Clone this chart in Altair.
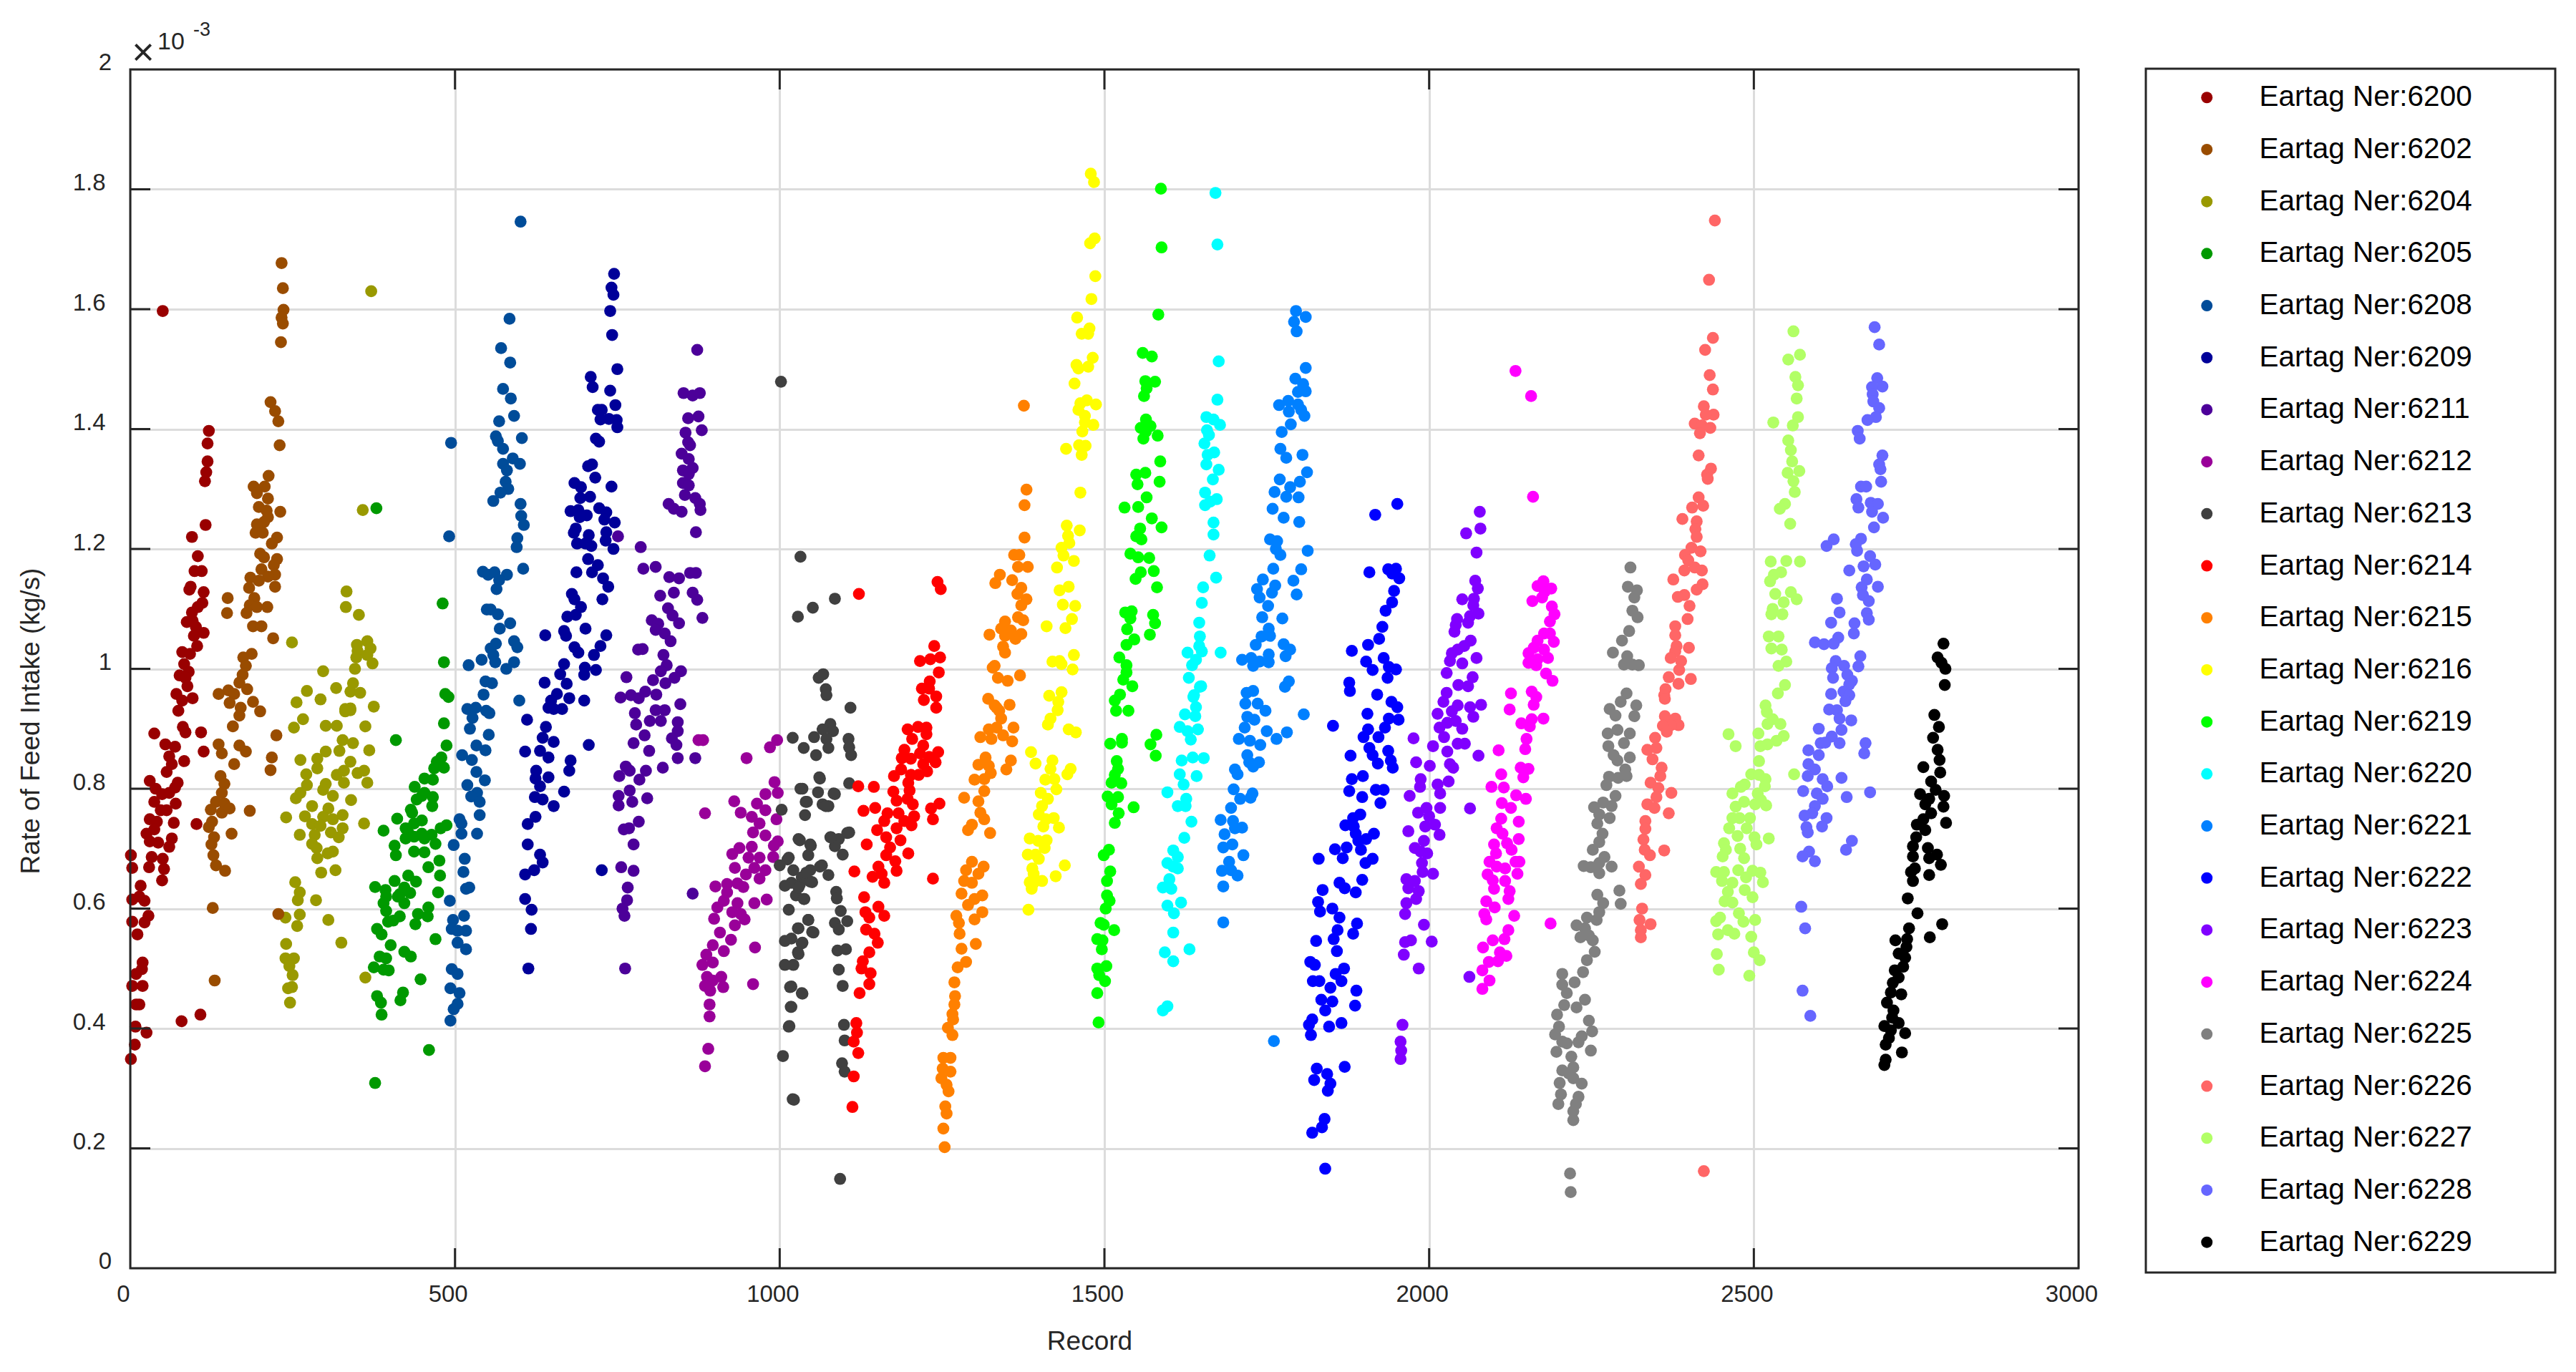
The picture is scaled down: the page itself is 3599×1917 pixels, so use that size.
import altair as alt
import pandas as pd

s6200 = [(50,1.597),(121,1.397),(119,1.376),(119,1.346),(117,1.328),(115,1.313),(116,1.24),(95,1.22),(104,1.188),(99,1.163),(110,1.163),(93,1.137),(91,1.132),(113,1.128),(111,1.11),(104,1.103),(95,1.094),(96,1.08),(87,1.078),(101,1.07),(113,1.06),(98,1.055),(103,1.038),(80,1.028),(92,1.025),(83,1.008),(90,.995),(76,.989),(85,.985),(88,.971),(71,.958),(96,.951),(80,.947),(74,.93),(81,.903),(85,.894),(37,.892),(109,.894),(113,.862),(54,.874),(69,.87),(60,.854),(64,.841),(83,.846),(56,.828),(30,.813),(73,.81),(69,.802),(39,.8),(49,.791),(60,.793),(37,.778),(70,.775),(47,.764),(56,.764),(30,.749),(102,.741),(41,.745),(67,.743),(37,.732),(25,.725),(64,.717),(30,.712),(43,.71),(60,.703),(33,.686),(50,.683),(29,.669),(52,.666),(1,.689),(3,.668),(49,.647),(16,.638),(14,.62),(3,.615),(22,.613),(3,.578),(28,.588),(22,.577),(11,.557),(19,.51),(18,.499),(9,.491),(3,.471),(19,.471),(9,.44),(14,.44),(8,.403),(25,.393),(7,.373),(1,.349),(79,.412),(108,.423)]
s6202 = [(233,1.677),(235,1.635),(236,1.599),(233,1.586),(235,1.576),(232,1.545),(216,1.445),(223,1.43),(228,1.413),(230,1.373),(213,1.322),(190,1.304),(207,1.304),(195,1.293),(212,1.284),(198,1.27),(210,1.264),(231,1.262),(212,1.253),(206,1.245),(195,1.241),(193,1.227),(204,1.227),(226,1.219),(218,1.209),(200,1.192),(206,1.186),(226,1.183),(221,1.173),(202,1.166),(223,1.157),(212,1.154),(185,1.152),(198,1.147),(183,1.135),(223,1.137),(191,1.118),(150,1.118),(184,1.106),(195,1.103),(211,1.103),(149,1.093),(179,1.093),(189,1.071),(202,1.071),(220,1.051),(187,1.025),(174,1.019),(178,1.005),(173,.99),(168,.977),(180,.966),(151,.964),(136,.958),(160,.958),(189,.945),(153,.943),(170,.935),(200,.929),(168,.922),(158,.904),(136,.874),(168,.872),(141,.859),(178,.862),(160,.841),(218,.852),(216,.831),(225,.889),(139,.821),(145,.808),(141,.793),(132,.778),(145,.775),(124,.765),(141,.76),(184,.763),(153,.767),(126,.745),(121,.736),(129,.719),(156,.725),(125,.707),(128,.689),(132,.672),(146,.663),(127,.601),(228,.591),(130,.48)]
s6204 = [(371,1.63),(358,1.265),(333,1.129),(332,1.103),(352,1.09),(249,1.044),(365,1.046),(349,1.04),(370,1.034),(350,1.03),(348,1.019),(365,1.023),(373,1.009),(346,1.0),(297,.996),(272,.963),(317,.968),(343,.976),(339,.962),(354,.96),(256,.944),(293,.949),(375,.937),(331,.933),(339,.934),(339,.931),(331,.929),(266,.916),(252,.902),(301,.905),(318,.905),(362,.904),(327,.881),(343,.876),(322,.863),(301,.862),(368,.864),(262,.848),(288,.85),(339,.845),(288,.834),(329,.83),(360,.83),(350,.826),(271,.824),(318,.823),(365,.81),(329,.81),(301,.808),(272,.806),(297,.798),(262,.793),(255,.784),(312,.788),(340,.781),(280,.771),(305,.767),(240,.752),(269,.754),(297,.753),(327,.756),(280,.741),(312,.749),(360,.742),(293,.738),(327,.734),(309,.727),(261,.723),(284,.723),(321,.719),(280,.708),(287,.701),(312,.695),(304,.692),(288,.684),(316,.664),(294,.66),(254,.644),(261,.627),(258,.614),(286,.614),(239,.585),(261,.59),(257,.571),(305,.581),(325,.543),(240,.541),(239,.517),(252,.517),(245,.504),(250,.489),(249,.469),(243,.467),(246,.443),(362,.485)]
s6205 = [(379,1.268),(481,1.109),(483,1.011),(485,.958),(490,.953),(483,.909),(409,.881),(487,.872),(479,.852),(472,.845),(468,.834),(483,.835),(466,.815),(453,.817),(438,.803),(449,.788),(466,.786),(453,.793),(441,.782),(432,.765),(465,.771),(411,.75),(434,.76),(449,.747),(437,.742),(390,.73),(424,.734),(478,.734),(487,.739),(428,.727),(449,.725),(424,.717),(464,.723),(437,.72),(453,.717),(407,.705),(470,.708),(437,.695),(453,.694),(409,.689),(476,.68),(459,.669),(477,.655),(428,.655),(407,.646),(440,.645),(377,.636),(393,.631),(422,.635),(474,.627),(394,.62),(415,.624),(431,.626),(390,.609),(422,.609),(412,.62),(394,.596),(459,.602),(443,.591),(415,.587),(458,.587),(397,.578),(405,.58),(439,.574),(470,.549),(380,.566),(387,.557),(401,.539),(384,.52),(422,.528),(432,.52),(394,.517),(375,.502),(390,.498),(398,.497),(447,.482),(380,.454),(386,.443),(387,.423),(420,.46),(416,.447),(460,.364),(377,.309)]
s6208 = [(601,1.746),(584,1.584),(571,1.535),(585,1.511),(574,1.467),(586,1.451),(591,1.422),(568,1.413),(563,1.388),(566,1.38),(603,1.385),(574,1.367),(589,1.351),(574,1.342),(600,1.342),(580,1.331),(578,1.312),(582,1.3),(570,1.294),(559,1.28),(601,1.275),(602,1.255),(606,1.24),(596,1.218),(595,1.203),(605,1.167),(543,1.162),(551,1.157),(561,1.161),(580,1.157),(568,1.148),(564,1.133),(549,1.099),(555,1.099),(566,1.091),(585,1.076),(569,1.067),(591,1.046),(596,1.036),(563,1.042),(555,1.034),(559,1.023),(541,1.015),(562,1.011),(521,1.006),(591,1.011),(579,1.0),(547,.979),(557,.976),(544,.957),(599,.947),(494,1.377),(491,1.221),(519,.933),(532,.935),(548,.93),(527,.918),(553,.926),(523,.9),(552,.89),(533,.872),(547,.864),(511,.856),(526,.848),(533,.828),(546,.814),(519,.806),(534,.793),(525,.787),(538,.778),(538,.756),(507,.749),(510,.742),(510,.725),(534,.725),(498,.706),(515,.683),(513,.661),(517,.633),(522,.635),(492,.613),(514,.588),(497,.581),(495,.566),(517,.563),(504,.563),(504,.543),(517,.532),(495,.499),(504,.491),(493,.467),(507,.459),(504,.441),(498,.432),(493,.413)]
s6209 = [(745,1.659),(741,1.636),(744,1.624),(739,1.597),(742,1.557),(750,1.5),(709,1.487),(712,1.47),(739,1.464),(747,1.44),(720,1.432),(726,1.432),(724,1.416),(737,1.417),(749,1.415),(750,1.403),(717,1.384),(722,1.379),(705,1.338),(711,1.341),(716,1.319),(684,1.31),(694,1.303),(741,1.304),(693,1.285),(708,1.287),(722,1.268),(733,1.261),(678,1.263),(690,1.265),(703,1.256),(692,1.253),(730,1.249),(746,1.244),(686,1.234),(706,1.223),(733,1.228),(683,1.227),(732,1.214),(688,1.209),(701,1.209),(710,1.205),(744,1.2),(705,1.183),(720,1.173),(687,1.161),(711,1.161),(728,1.151),(736,1.137),(680,1.125),(684,1.116),(727,1.116),(694,1.103),(686,1.09),(673,1.087),(701,1.067),(668,1.063),(671,1.055),(639,1.056),(733,1.056),(724,1.038),(684,1.036),(690,1.027),(714,1.023),(668,1.008),(700,1.002),(717,.998),(662,.991),(699,.99),(672,.975),(638,.977),(657,.958),(676,.951),(699,.947),(648,.947),(644,.935),(611,.915),(652,.933),(665,.933),(640,.903),(635,.885),(652,.878),(706,.873),(608,.862),(631,.863),(644,.852),(678,.847),(625,.83),(676,.83),(644,.819),(624,.817),(631,.804),(668,.795),(623,.786),(635,.782),(652,.771),(624,.753),(612,.741),(612,.707),(631,.69),(635,.677),(622,.664),(608,.657),(726,.664),(608,.616),(618,.598),(617,.566),(613,.5)]
s6211 = [(873,1.532),(852,1.46),(866,1.456),(877,1.46),(859,1.418),(875,1.421),(855,1.394),(880,1.398),(859,1.378),(862,1.373),(849,1.359),(860,1.35),(851,1.331),(866,1.335),(860,1.325),(851,1.31),(860,1.306),(854,1.29),(870,1.285),(829,1.275),(837,1.267),(849,1.262),(877,1.275),(878,1.265),(871,1.228),(751,1.221),(786,1.203),(790,1.167),(809,1.17),(830,1.153),(845,1.151),(862,1.16),(871,1.16),(816,1.122),(837,1.127),(866,1.127),(873,1.115),(828,1.101),(835,1.089),(881,1.085),(803,1.081),(845,1.076),(813,1.075),(809,1.065),(823,1.059),(832,1.046),(782,1.032),(789,1.033),(821,1.023),(826,1.006),(817,.996),(848,.996),(764,.986),(805,.981),(838,.985),(824,.976),(793,.962),(771,.956),(755,.952),(810,.957),(783,.951),(847,.941),(777,.926),(809,.931),(823,.931),(779,.907),(800,.913),(817,.913),(792,.889),(843,.911),(843,.896),(834,.884),(775,.876),(841,.873),(799,.863),(843,.851),(870,.851),(820,.835),(763,.837),(794,.83),(769,.83),(753,.821),(784,.815),(769,.797),(752,.788),(796,.784),(773,.778),(752,.772),(783,.745),(760,.732),(768,.734),(775,.707),(756,.669),(775,.663),(766,.635),(765,.614),(758,.6),(761,.588),(762,.5),(866,.625)]
s6212 = [(875,.881),(882,.881),(996,.881),(985,.869),(949,.851),(992,.811),(978,.791),(997,.793),(885,.759),(930,.779),(940,.76),(965,.775),(957,.753),(978,.764),(995,.749),(969,.742),(959,.727),(978,.722),(997,.712),(991,.705),(957,.703),(938,.701),(927,.691),(952,.685),(969,.685),(990,.686),(931,.668),(961,.668),(978,.664),(948,.657),(969,.65),(935,.642),(901,.637),(919,.641),(944,.636),(919,.627),(980,.615),(961,.609),(914,.613),(935,.609),(904,.602),(927,.594),(940,.591),(899,.583),(946,.582),(931,.572),(908,.56),(925,.548),(962,.535),(897,.539),(914,.529),(887,.523),(881,.506),(897,.51),(888,.486),(910,.486),(897,.48),(885,.471),(913,.469),(959,.474),(893,.463),(892,.44),(892,.42),(890,.366),(885,.337)]
s6213 = [(1002,1.479),(1032,1.187),(1028,1.087),(1051,1.102),(1085,1.117),(1060,.985),(1067,.991),(1071,.966),(1072,.956),(1109,.935),(1078,.908),(1066,.899),(1082,.896),(1053,.886),(1106,.883),(1020,.885),(1072,.883),(1037,.868),(1075,.868),(1107,.869),(1056,.856),(1110,.856),(1061,.819),(1107,.809),(1032,.8),(1059,.794),(1083,.792),(1040,.778),(1066,.774),(1075,.771),(1039,.756),(1104,.726),(1078,.719),(1029,.716),(1091,.716),(1047,.707),(1085,.704),(1044,.689),(1097,.69),(1062,.67),(1012,.682),(1021,.664),(1047,.664),(1034,.652),(1075,.656),(1047,.645),(1018,.643),(1031,.64),(1087,.628),(1025,.622),(1038,.616),(1088,.617),(1094,.596),(1104,.579),(1044,.581),(1085,.576),(1091,.565),(1028,.567),(1050,.561),(1018,.55),(1034,.542),(1089,.53),(1102,.532),(1028,.527),(1021,.506),(1091,.498),(1097,.471),(1018,.47),(1034,.459),(1017,.436),(1015,.404),(1099,.406),(1100,.38),(1096,.342),(1100,.328),(1020,.282),(1093,.149),(1035,.8),(1003,.765),(1042,.778),(1062,.817),(1071,.771),(1085,.791),(1031,.714),(1048,.705),(1079,.719),(1107,.727),(1014,.685),(1000,.672),(1065,.672),(1041,.66),(1050,.644),(1008,.638),(1029,.635),(1037,.616),(1014,.598),(1044,.581),(1029,.567),(1052,.56),(1008,.546),(1035,.543),(1008,.506),(1029,.524),(1016,.469),(1035,.458),(1018,.436),(1014,.403),(1005,.354),(1022,.281)]
s6214 = [(1122,1.125),(1243,1.145),(1248,1.133),(1238,1.038),(1216,1.013),(1232,1.016),(1247,1.019),(1245,.994),(1231,.979),(1219,.967),(1230,.967),(1241,.954),(1222,.948),(1241,.935),(1197,.899),(1213,.903),(1226,.902),(1226,.891),(1204,.883),(1192,.865),(1221,.872),(1244,.861),(1216,.859),(1188,.851),(1230,.853),(1202,.85),(1240,.844),(1221,.841),(1187,.832),(1227,.829),(1176,.821),(1202,.823),(1214,.823),(1198,.81),(1200,.797),(1121,.804),(1145,.803),(1175,.795),(1246,.775),(1180,.78),(1197,.783),(1205,.774),(1233,.767),(1129,.763),(1147,.768),(1166,.759),(1183,.759),(1207,.754),(1236,.749),(1161,.746),(1192,.746),(1203,.739),(1180,.734),(1150,.731),(1164,.719),(1186,.714),(1134,.707),(1170,.702),(1198,.692),(1164,.689),(1178,.679),(1152,.67),(1115,.662),(1180,.663),(1157,.658),(1143,.653),(1236,.65),(1161,.643),(1130,.619),(1152,.603),(1132,.594),(1161,.588),(1138,.585),(1133,.565),(1146,.558),(1151,.543),(1138,.527),(1128,.512),(1126,.5),(1140,.492),(1138,.474),(1123,.459),(1118,.409),(1119,.393),(1114,.378),(1121,.359),(1114,.32),(1112,.269)]
s6215 = [(1376,1.439),(1380,1.299),(1377,1.273),(1377,1.219),(1361,1.19),(1369,1.19),(1367,1.17),(1382,1.17),(1339,1.157),(1358,1.148),(1332,1.143),(1372,1.135),(1366,1.125),(1380,1.116),(1372,1.106),(1367,1.086),(1375,1.081),(1347,1.079),(1341,1.067),(1356,1.064),(1323,1.057),(1347,1.055),(1372,1.058),(1363,1.05),(1344,1.037),(1347,1.027),(1331,1.005),(1328,1.002),(1370,.989),(1336,.985),(1351,.98),(1321,.95),(1354,.94),(1331,.939),(1338,.93),(1334,.935),(1341,.917),(1322,.899),(1360,.902),(1334,.902),(1309,.886),(1326,.883),(1344,.889),(1358,.879),(1317,.852),(1306,.84),(1322,.838),(1356,.847),(1349,.832),(1325,.826),(1300,.815),(1315,.816),(1315,.796),(1284,.785),(1306,.779),(1309,.76),(1315,.749),(1296,.74),(1290,.731),(1324,.726),(1296,.678),(1287,.664),(1314,.67),(1306,.658),(1284,.646),(1296,.643),(1280,.625),(1312,.622),(1300,.616),(1290,.606),(1312,.594),(1272,.588),(1300,.582),(1276,.576),(1277,.558),(1302,.541),(1280,.533),(1287,.511),(1274,.502),(1269,.477),(1270,.454),(1269,.44),(1266,.424),(1267,.415),(1259,.401),(1266,.389),(1252,.351),(1263,.351),(1251,.333),(1263,.328),(1249,.317),(1257,.306),(1260,.295),(1255,.27),(1257,.258),(1252,.233),(1254,.202)]
s6216 = [(1479,1.826),(1484,1.812),(1485,1.718),(1478,1.71),(1486,1.655),(1480,1.617),(1458,1.586),(1477,1.568),(1465,1.559),(1475,1.559),(1482,1.519),(1457,1.507),(1475,1.504),(1460,1.501),(1454,1.476),(1473,1.448),(1463,1.443),(1487,1.441),(1460,1.432),(1470,1.422),(1470,1.411),(1483,1.407),(1466,1.396),(1441,1.367),(1461,1.373),(1471,1.372),(1465,1.357),(1463,1.294),(1442,1.239),(1462,1.231),(1444,1.222),(1446,1.21),(1434,1.202),(1437,1.189),(1453,1.18),(1427,1.169),(1445,1.137),(1431,1.131),(1436,1.107),(1455,1.105),(1450,1.083),(1411,1.071),(1440,1.068),(1453,1.023),(1420,1.012),(1431,1.013),(1434,1.008),(1451,.999),(1415,.955),(1434,.961),(1429,.945),(1428,.931),(1417,.917),(1413,.907),(1445,.899),(1456,.894),(1387,.861),(1394,.842),(1420,.847),(1417,.833),(1448,.833),(1443,.824),(1409,.815),(1423,.816),(1426,.799),(1402,.793),(1413,.783),(1404,.771),(1399,.757),(1422,.751),(1410,.749),(1406,.737),(1430,.735),(1385,.717),(1411,.714),(1398,.713),(1408,.701),(1382,.69),(1394,.69),(1399,.683),(1389,.667),(1439,.672),(1391,.658),(1425,.654),(1385,.644),(1404,.646),(1391,.643),(1388,.633),(1383,.598)]
s6219 = [(1587,1.801),(1588,1.703),(1583,1.591),(1559,1.527),(1573,1.521),(1563,1.48),(1578,1.479),(1565,1.468),(1561,1.455),(1564,1.416),(1556,1.402),(1571,1.405),(1564,1.396),(1582,1.389),(1560,1.384),(1586,1.346),(1549,1.324),(1563,1.327),(1585,1.312),(1551,1.308),(1565,1.286),(1531,1.269),(1552,1.27),(1573,1.251),(1588,1.236),(1555,1.234),(1549,1.221),(1557,1.216),(1540,1.192),(1552,1.186),(1569,1.185),(1556,1.161),(1576,1.163),(1548,1.15),(1581,1.136),(1532,1.094),(1542,1.096),(1575,1.09),(1540,1.084),(1578,1.076),(1535,1.066),(1570,1.057),(1546,1.049),(1534,1.04),(1523,1.019),(1534,1.006),(1534,.994),(1529,.982),(1543,.971),(1524,.957),(1516,.947),(1518,.93),(1537,.93),(1580,.89),(1571,.874),(1579,.855),(1527,.883),(1509,.875),(1527,.877),(1519,.846),(1521,.833),(1516,.823),(1511,.81),(1526,.809),(1505,.787),(1521,.786),(1511,.774),(1545,.769),(1522,.759),(1516,.743),(1507,.698),(1499,.689),(1509,.662),(1504,.646),(1504,.622),(1508,.613),(1502,.6),(1494,.576),(1515,.564),(1499,.573),(1489,.549),(1497,.547),(1496,.532),(1503,.504),(1489,.5),(1492,.489),(1501,.479),(1489,.459),(1491,.41)]
s6220 = [(1671,1.794),(1674,1.708),(1676,1.513),(1674,1.449),(1657,1.42),(1668,1.416),(1678,1.407),(1658,1.398),(1661,1.39),(1654,1.376),(1669,1.361),(1659,1.357),(1657,1.341),(1676,1.332),(1667,1.316),(1655,1.294),(1673,1.283),(1663,1.279),(1655,1.273),(1668,1.244),(1668,1.224),(1662,1.189),(1672,1.152),(1652,1.136),(1650,1.11),(1646,1.077),(1647,1.054),(1646,1.038),(1628,1.027),(1650,1.029),(1679,1.027),(1641,1.015),(1635,1.006),(1630,.985),(1649,.971),(1638,.956),(1641,.936),(1624,.924),(1647,.97),(1637,.953),(1640,.921),(1616,.903),(1644,.899),(1628,.896),(1633,.882),(1619,.847),(1636,.852),(1653,.851),(1616,.824),(1642,.821),(1622,.807),(1597,.794),(1626,.783),(1613,.771),(1625,.771),(1634,.745),(1623,.718),(1606,.697),(1613,.686),(1597,.676),(1606,.67),(1613,.667),(1600,.649),(1590,.635),(1603,.633),(1597,.605),(1618,.61),(1607,.592),(1606,.56),(1593,.527),(1631,.532),(1606,.512),(1597,.437),(1590,.43)]
s6221 = [(1795,1.597),(1810,1.587),(1792,1.579),(1796,1.563),(1810,1.502),(1794,1.484),(1806,1.475),(1798,1.462),(1810,1.463),(1783,1.447),(1769,1.44),(1798,1.441),(1784,1.429),(1803,1.432),(1808,1.422),(1787,1.408),(1773,1.395),(1771,1.367),(1805,1.357),(1780,1.352),(1812,1.328),(1770,1.316),(1801,1.312),(1786,1.303),(1762,1.295),(1780,1.287),(1799,1.286),(1759,1.267),(1776,1.252),(1800,1.245),(1755,1.216),(1766,1.213),(1813,1.197),(1764,1.2),(1771,1.19),(1760,1.167),(1803,1.166),(1744,1.149),(1791,1.147),(1763,1.139),(1735,1.133),(1758,1.127),(1796,1.124),(1739,1.119),(1752,1.105),(1743,1.086),(1774,1.084),(1753,1.067),(1755,1.055),(1742,1.054),(1733,1.04),(1776,1.041),(1786,1.032),(1753,1.024),(1779,1.021),(1712,1.015),(1726,1.018),(1739,1.012),(1729,1.005),(1753,1.011),(1778,.97),(1784,.979),(1729,.963),(1719,.96),(1717,.942),(1736,.942),(1748,.93),(1807,.924),(1720,.92),(1731,.915),(1716,.902),(1750,.896),(1765,.883),(1781,.894),(1707,.883),(1724,.88),(1740,.873),(1720,.856),(1723,.844),(1738,.844),(1729,.837),(1701,.832),(1705,.824),(1699,.799),(1728,.792),(1709,.783),(1725,.785),(1695,.768),(1679,.748),(1698,.746),(1712,.735),(1685,.724),(1701,.734),(1697,.707),(1683,.702),(1714,.689),(1692,.678),(1681,.663),(1695,.664),(1705,.655),(1683,.637),(1683,.577),(1761,.379)]
s6222 = [(1951,1.275),(1917,1.257),(1908,1.161),(1937,1.166),(1949,1.167),(1943,1.159),(1954,1.151),(1946,1.13),(1943,1.111),(1933,1.097),(1928,1.07),(1923,1.05),(1906,1.04),(1881,1.03),(1903,1.012),(1930,1.018),(1913,.998),(1938,1.003),(1949,.999),(1936,.985),(1877,.977),(1878,.963),(1920,.957),(1942,.945),(1951,.936),(1905,.925),(1852,.905),(1938,.917),(1953,.915),(1906,.899),(1932,.902),(1899,.886),(1922,.886),(1908,.868),(1937,.863),(1913,.856),(1879,.855),(1941,.847),(1921,.842),(1944,.835),(1881,.816),(1898,.821),(1877,.796),(1918,.798),(1930,.798),(1897,.786),(1925,.776),(1894,.757),(1883,.751),(1871,.739),(1884,.737),(1887,.725),(1915,.725),(1903,.716),(1891,.713),(1873,.702),(1855,.699),(1895,.698),(1867,.684),(1830,.683),(1913,.683),(1902,.676),(1862,.643),(1897,.648),(1870,.634),(1836,.631),(1887,.627),(1829,.611),(1851,.6),(1832,.595),(1862,.585),(1889,.575),(1859,.564),(1883,.558),(1826,.546),(1853,.549),(1858,.529),(1817,.511),(1869,.5),(1824,.506),(1856,.491),(1821,.479),(1865,.479),(1831,.479),(1848,.468),(1888,.463),(1834,.448),(1851,.445),(1886,.438),(1840,.43),(1820,.415),(1865,.409),(1846,.403),(1815,.406),(1818,.389),(1870,.336),(1827,.333),(1843,.324),(1823,.314),(1848,.308),(1844,.296),(1839,.249),(1835,.235),(1820,.226),(1840,.166)]
s6223 = [(2078,1.262),(2079,1.234),(2057,1.226),(2073,1.194),(2071,1.147),(2075,1.134),(2051,1.116),(2069,1.117),(2068,1.106),(2076,1.092),(2063,1.088),(2043,1.083),(2060,1.077),(2041,1.073),(2039,1.062),(2064,1.047),(2054,1.038),(2044,1.032),(2035,1.026),(2073,1.018),(2032,1.013),(2051,1.009),(2027,.993),(2067,.986),(2045,.973),(2060,.971),(2027,.96),(2022,.945),(2044,.939),(2080,.94),(2063,.936),(2013,.925),(2035,.929),(2068,.92),(2028,.91),(2041,.913),(2016,.902),(2051,.9),(1976,.884),(2023,.886),(2044,.875),(2055,.875),(2006,.871),(2028,.862),(2076,.855),(1980,.844),(2032,.841),(2001,.838),(1987,.816),(2037,.835),(2013,.807),(2030,.812),(1986,.803),(2017,.792),(1970,.788),(2063,.767),(2017,.768),(1996,.768),(1983,.76),(2000,.754),(1994,.737),(2009,.74),(2016,.723),(1968,.729),(1992,.713),(1978,.701),(1987,.695),(1997,.692),(1989,.676),(2006,.658),(1990,.661),(1965,.649),(1978,.646),(1968,.634),(1984,.629),(1980,.616),(1965,.609),(1963,.591),(1992,.573),(1972,.547),(1963,.544),(2004,.545),(1961,.523),(1984,.5),(2062,.486),(1959,.406),(1956,.378),(1957,.363),(1956,.349)]
s6224 = [(2133,1.497),(2157,1.455),(2160,1.287),(2176,1.146),(2167,1.138),(2188,1.134),(2178,1.129),(2174,1.119),(2159,1.113),(2189,1.104),(2193,1.091),(2186,1.079),(2177,1.059),(2186,1.059),(2167,1.047),(2192,1.045),(2161,1.035),(2177,1.032),(2153,1.026),(2183,1.018),(2167,1.016),(2153,1.01),(2165,1.006),(2180,.992),(2190,.98),(2126,.959),(2158,.962),(2165,.953),(2161,.94),(2124,.932),(2176,.917),(2158,.916),(2142,.909),(2155,.904),(2150,.883),(2107,.864),(2148,.866),(2141,.835),(2153,.833),(2145,.819),(2111,.824),(2096,.803),(2115,.802),(2134,.789),(2149,.783),(2112,.776),(2126,.768),(2111,.75),(2138,.745),(2104,.734),(2113,.725),(2138,.716),(2100,.707),(2120,.709),(2103,.692),(2127,.698),(2093,.678),(2133,.678),(2139,.678),(2104,.67),(2117,.667),(2090,.657),(2136,.658),(2098,.647),(2117,.646),(2100,.633),(2124,.629),(2122,.616),(2088,.612),(2101,.602),(2085,.591),(2131,.588),(2088,.582),(2187,.575),(2122,.564),(2098,.547),(2116,.549),(2083,.535),(2109,.527),(2119,.521),(2092,.511),(2106,.512),(2082,.497),(2093,.48),(2082,.466)]
s6225 = [(2310,1.169),(2306,1.137),(2320,1.131),(2316,1.119),(2313,1.097),(2321,1.086),(2308,1.063),(2297,1.047),(2283,1.027),(2305,1.021),(2300,1.007),(2313,1.007),(2323,1.006),(2304,.959),(2295,.945),(2319,.939),(2278,.933),(2287,.922),(2316,.921),(2275,.892),(2290,.898),(2309,.892),(2300,.876),(2276,.871),(2284,.856),(2309,.852),(2290,.847),(2302,.832),(2277,.82),(2304,.821),(2291,.818),(2273,.806),(2287,.788),(2268,.777),(2254,.769),(2281,.771),(2262,.757),(2278,.751),(2259,.742),(2267,.725),(2262,.711),(2252,.698),(2270,.686),(2238,.671),(2262,.676),(2281,.67),(2249,.669),(2262,.659),(2293,.63),(2259,.623),(2268,.609),(2295,.608),(2262,.594),(2243,.585),(2258,.581),(2227,.572),(2240,.567),(2246,.555),(2233,.552),(2252,.547),(2255,.528),(2243,.514),(2205,.491),(2237,.494),(2224,.477),(2205,.473),(2212,.459),(2240,.448),(2208,.439),(2227,.435),(2197,.423),(2246,.413),(2200,.403),(2251,.395),(2194,.39),(2235,.387),(2205,.378),(2212,.375),(2230,.377),(2249,.363),(2196,.361),(2219,.353),(2222,.335),(2205,.33),(2215,.325),(2222,.317),(2235,.308),(2201,.309),(2230,.286),(2203,.29),(2199,.274),(2226,.274),(2222,.262),(2222,.247),(2217,.158),(2218,.127)]
s6226 = [(2440,1.748),(2431,1.649),(2437,1.552),(2425,1.532),(2432,1.49),(2437,1.466),(2423,1.438),(2438,1.424),(2426,1.424),(2409,1.409),(2420,1.406),(2433,1.402),(2417,1.393),(2415,1.356),(2434,1.334),(2428,1.324),(2429,1.317),(2415,1.286),(2405,1.269),(2422,1.272),(2390,1.25),(2412,1.246),(2410,1.233),(2412,1.22),(2404,1.202),(2418,1.196),(2394,1.19),(2399,1.181),(2393,1.164),(2409,1.169),(2420,1.164),(2376,1.149),(2421,1.141),(2412,1.132),(2393,1.123),(2383,1.12),(2401,1.105),(2398,1.083),(2379,1.071),(2379,1.056),(2381,1.038),(2400,1.035),(2379,1.029),(2372,1.018),(2388,1.013),(2385,.998),(2369,.986),(2403,.983),(2384,.975),(2364,.966),(2362,.956),(2363,.95),(2363,.921),(2379,.917),(2384,.906),(2372,.906),(2360,.905),(2366,.895),(2348,.885),(2336,.865),(2350,.868),(2344,.849),(2358,.835),(2356,.821),(2341,.81),(2353,.801),(2373,.793),(2350,.786),(2336,.774),(2347,.768),(2369,.759),(2333,.746),(2333,.733),(2330,.715),(2332,.698),(2362,.697),(2340,.689),(2323,.67),(2333,.656),(2326,.641),(2328,.6),(2324,.581),(2341,.574),(2326,.564),(2326,.552),(2423,.162)]
s6227 = [(2561,1.563),(2571,1.524),(2553,1.516),(2564,1.487),(2568,1.473),(2566,1.451),(2568,1.42),(2530,1.411),(2560,1.406),(2553,1.381),(2557,1.365),(2559,1.346),(2552,1.327),(2570,1.33),(2561,1.313),(2563,1.295),(2548,1.275),(2540,1.267),(2556,1.242),(2526,1.179),(2550,1.18),(2571,1.179),(2542,1.161),(2531,1.157),(2525,1.146),(2533,1.125),(2557,1.128),(2546,1.111),(2566,1.116),(2529,1.1),(2527,1.091),(2544,1.091),(2523,1.054),(2538,1.054),(2527,1.034),(2543,1.032),(2550,1.012),(2538,1.005),(2548,.973),(2537,.959),(2518,.939),(2520,.928),(2529,.916),(2521,.908),(2541,.908),(2461,.891),(2507,.892),(2546,.888),(2472,.871),(2535,.88),(2521,.874),(2510,.871),(2508,.846),(2562,.824),(2496,.824),(2508,.823),(2518,.816),(2486,.807),(2480,.803),(2517,.804),(2467,.792),(2506,.792),(2511,.781),(2485,.778),(2472,.77),(2502,.774),(2519,.772),(2467,.751),(2478,.751),(2494,.751),(2462,.734),(2489,.734),(2475,.721),(2501,.719),(2523,.717),(2454,.709),(2504,.707),(2457,.698),(2479,.7),(2452,.687),(2485,.684),(2442,.661),(2454,.661),(2476,.664),(2498,.663),(2510,.66),(2488,.652),(2451,.646),(2467,.643),(2514,.644),(2460,.628),(2486,.631),(2498,.619),(2455,.612),(2467,.61),(2477,.592),(2448,.585),(2502,.581),(2442,.579),(2484,.578),(2460,.564),(2470,.558),(2445,.557),(2496,.553),(2443,.524),(2500,.527),(2509,.514),(2446,.498),(2493,.488)]
s6228 = [(2686,1.57),(2693,1.541),(2690,1.485),(2698,1.471),(2682,1.47),(2683,1.458),(2684,1.446),(2693,1.435),(2688,1.42),(2675,1.415),(2660,1.397),(2663,1.384),(2698,1.356),(2693,1.341),(2695,1.333),(2696,1.312),(2665,1.304),(2673,1.304),(2658,1.283),(2680,1.277),(2691,1.275),(2661,1.269),(2682,1.262),(2699,1.252),(2685,1.236),(2623,1.216),(2665,1.217),(2612,1.205),(2657,1.208),(2659,1.197),(2679,1.188),(2687,1.174),(2669,1.171),(2647,1.164),(2674,1.149),(2691,1.137),(2666,1.136),(2668,1.123),(2677,1.113),(2628,1.117),(2632,1.094),(2674,1.093),(2677,1.082),(2655,1.076),(2619,1.077),(2654,1.059),(2630,1.052),(2594,1.044),(2608,1.041),(2623,1.042),(2664,1.021),(2626,1.013),(2661,1.004),(2639,1.005),(2620,1.001),(2644,.99),(2622,.985),(2651,.98),(2647,.974),(2619,.958),(2638,.962),(2647,.956),(2641,.946),(2616,.932),(2628,.931),(2632,.917),(2650,.914),(2600,.9),(2635,.898),(2620,.887),(2603,.876),(2632,.876),(2672,.876),(2584,.864),(2670,.859),(2610,.877),(2600,.856),(2584,.841),(2594,.832),(2583,.821),(2606,.816),(2635,.818),(2613,.804),(2576,.796),(2679,.794),(2597,.792),(2643,.786),(2606,.783),(2594,.771),(2590,.759),(2578,.755),(2612,.751),(2605,.737),(2581,.736),(2583,.727),(2651,.713),(2642,.698),(2585,.695),(2575,.687),(2594,.679),(2573,.603),(2579,.567),(2575,.463),(2587,.421)]
s6229 = [(2792,1.042),(2783,1.019),(2795,1.0),(2789,1.01),(2794,.973),(2778,.923),(2785,.903),(2776,.885),(2783,.865),(2786,.848),(2761,.836),(2787,.827),(2773,.812),(2780,.798),(2756,.791),(2793,.788),(2770,.783),(2764,.774),(2792,.77),(2773,.759),(2761,.749),(2796,.743),(2751,.74),(2764,.731),(2750,.719),(2745,.704),(2768,.701),(2782,.69),(2745,.687),(2770,.684),(2788,.673),(2748,.667),(2742,.661),(2770,.656),(2745,.646),(2737,.617),(2752,.592),(2790,.574),(2739,.567),(2771,.552),(2718,.547),(2736,.549),(2735,.536),(2723,.525),(2733,.518),(2730,.503),(2717,.497),(2723,.485),(2714,.476),(2727,.457),(2711,.46),(2705,.443),(2715,.43),(2713,.418),(2701,.404),(2723,.409),(2711,.397),(2733,.392),(2708,.384),(2703,.373),(2728,.36),(2703,.348),(2701,.339)]

series = [("6200",s6200),("6202",s6202),("6204",s6204),("6205",s6205),("6208",s6208),("6209",s6209),("6211",s6211),("6212",s6212),("6213",s6213),("6214",s6214),("6215",s6215),("6216",s6216),("6219",s6219),("6220",s6220),("6221",s6221),("6222",s6222),("6223",s6223),("6224",s6224),("6225",s6225),("6226",s6226),("6227",s6227),("6228",s6228),("6229",s6229)]
colors = ["#990000","#994C00","#999900","#009900","#004C99","#000099","#4C0099","#990099","#404040","#FF0000","#FF8000","#FFFF00","#00FF00","#00FFFF","#0080FF","#0000FF","#8000FF","#FF00FF","#808080","#FF6666","#B2FF66","#6666FF","#000000"]
x_ticks = [0,500,1000,1500,2000,2500,3000]
y_ticks = [0,0.2,0.4,0.6,0.8,1.0,1.2,1.4,1.6,1.8,2.0]
y_whole = [0,1,2]

W, H = 2722, 1675
INK = "#262626"
FONT = "Liberation Sans"
X_TITLE = "Record"
Y_TITLE = "Rate of Feed Intake (kg/s)"

rows = [{"rec":x,"val":y,"tag":"Eartag Ner:"+t,"o":i} for t,pts in series for i,(x,y) in enumerate(pts)]
df = pd.DataFrame(rows)
tags = ["Eartag Ner:"+t for t,_ in series]

xs = alt.Scale(domain=[0,3000], nice=False, zero=False)
ys = alt.Scale(domain=[0,2], nice=False, zero=False)
x_axis = alt.Axis(values=x_ticks, format="d", grid=True, gridColor="#dcdcdc", gridWidth=3,
                  domain=False, ticks=False, labelFont=FONT, labelFontSize=33, labelColor=INK,
                  labelPadding=20, labelOffset=-10, titleFont=FONT, titleFontSize=37, titleFontWeight="normal",
                  titleColor=INK, titleX=1340, titleY=84, labelFlush=False, labelOverlap=False)
y_axis = alt.Axis(values=y_ticks, format=".1f", labelExpr="(datum.value==0||datum.value==1||datum.value==2)?'':datum.label",
                  grid=True, gridColor="#dcdcdc", gridWidth=3, domain=False, ticks=False,
                  labelFont=FONT, labelFontSize=33, labelColor=INK, labelPadding=35, labelOffset=-9,
                  titleFont=FONT, titleFontSize=37, titleFontWeight="normal", titleColor=INK,
                  titleX=-120, titleY=910, labelFlush=False, labelOverlap=False)

points = alt.Chart(df).mark_circle(size=280, opacity=1).encode(
    x=alt.X("rec:Q", scale=xs, title=X_TITLE, axis=x_axis),
    y=alt.Y("val:Q", scale=ys, title=Y_TITLE, axis=y_axis),
    color=alt.Color("tag:N", scale=alt.Scale(domain=tags, range=colors),
                    legend=alt.Legend(title=None, orient="none", legendX=2881, legendY=19, padding=0,
                                      symbolType="circle", symbolSize=256, symbolStrokeWidth=0,
                                      labelFont=FONT, labelFontSize=40.5, labelColor="#000000", labelOffset=53,
                                      labelLimit=500, rowPadding=31.7)),
    order="o:Q",
)

xt = pd.DataFrame({"v": x_ticks[1:-1]})
yt = pd.DataFrame({"v": y_ticks[1:-1]})
def xtick(a, b):
    return alt.Chart(xt).mark_rule(color=INK, strokeWidth=3).encode(
        x=alt.X("v:Q", scale=xs, title=X_TITLE, axis=x_axis), y=alt.value(a), y2=alt.value(b))
def ytick(a, b):
    return alt.Chart(yt).mark_rule(color=INK, strokeWidth=3).encode(
        y=alt.Y("v:Q", scale=ys, title=Y_TITLE, axis=y_axis), x=alt.value(a), x2=alt.value(b))

end_labels = alt.Chart(pd.DataFrame({"v":y_whole,"t":[str(v) for v in y_whole]})).mark_text(
    font=FONT, fontSize=33, color=INK, align="right", baseline="middle", dy=-9).encode(
    y=alt.Y("v:Q", scale=ys, title=Y_TITLE, axis=y_axis), x=alt.value(-26), text="t:N")

def note(t, x, y, size):
    return alt.Chart(pd.DataFrame({"t":[t]})).mark_text(font=FONT, fontSize=size, color=INK, align="center", baseline="middle").encode(
        x=alt.value(x), y=alt.value(y), text="t:N")

def frame(x0, x1, y0, y1):
    return alt.Chart(pd.DataFrame({"a":[1]})).mark_rect(filled=False, stroke=INK, strokeWidth=3).encode(
        x=alt.value(x0), x2=alt.value(x1), y=alt.value(y0), y2=alt.value(y1))

chart = alt.layer(
    points, xtick(0,28), xtick(H-28,H), ytick(0,28), ytick(W-28,W), end_labels,
    note("×",18,-22,54), note("10",57,-38,34), note("-3",100,-55,27),
    frame(0,W,0,H), frame(2816,3388,-1,1681)
).properties(
    width=W, height=H,
    autosize=alt.AutoSizeParams(type="none"),
    padding={"left":174,"top":89,"right":680,"bottom":140},
    background="white",
).configure_view(stroke=None)

chart.save("out.html", embed_options={"renderer": "svg", "actions": False})
